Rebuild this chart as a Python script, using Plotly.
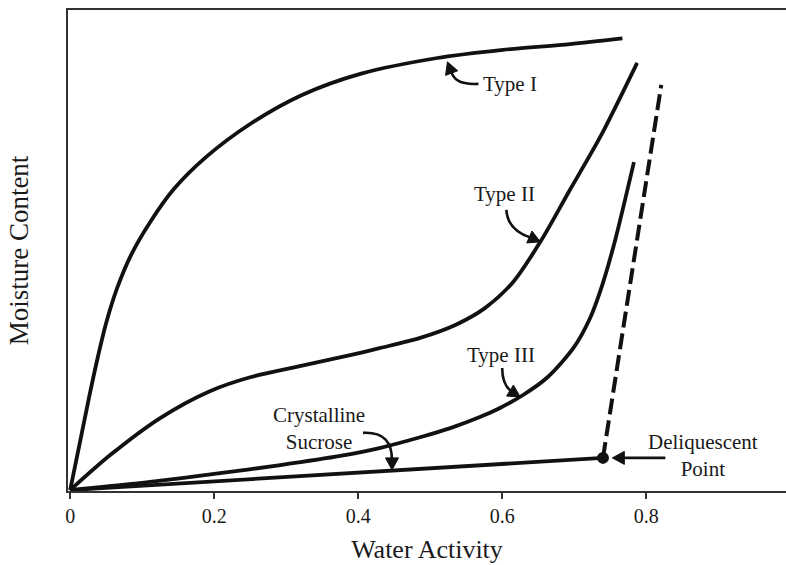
import math
import plotly.graph_objects as go

# Water activity (x) and relative moisture content (y) for each isotherm
type1_aw = [0, 0.0139, 0.0264, 0.0375, 0.05, 0.0653, 0.0847, 0.111, 0.144, 0.189,
            0.25, 0.322, 0.403, 0.51, 0.601, 0.694, 0.767]
type1_mc = [0, 0.102, 0.194, 0.271, 0.348, 0.421, 0.49, 0.558, 0.627, 0.694,
            0.7625, 0.823, 0.867, 0.9, 0.917, 0.929, 0.941]

type2_aw = [0, 0.0556, 0.125, 0.194, 0.25, 0.319, 0.389, 0.431, 0.486, 0.535,
            0.576, 0.615, 0.653, 0.694, 0.736, 0.7875]
type2_mc = [0, 0.0729, 0.15, 0.206, 0.235, 0.258, 0.281, 0.296, 0.317, 0.344,
            0.379, 0.433, 0.517, 0.625, 0.735, 0.89]

type3_aw = [0, 0.111, 0.208, 0.292, 0.375, 0.431, 0.486, 0.528, 0.569, 0.597,
            0.629, 0.663, 0.699, 0.722, 0.739, 0.757, 0.783]
type3_mc = [0, 0.017, 0.035, 0.052, 0.071, 0.088, 0.11, 0.129, 0.152, 0.171,
            0.198, 0.235, 0.296, 0.358, 0.427, 0.521, 0.683]

sucrose_aw = [0, 0.740]
sucrose_mc = [0, 0.067]

deliq_aw = [0.740, 0.821]
deliq_mc = [0.067, 0.844]

tick_vals = [0, 0.2, 0.4, 0.6, 0.8, 1.0]
tick_text = ["0", "0.2", "0.4", "0.6", "0.8", "1"]

SERIF = "Liberation Serif, Times New Roman, serif"
INK = "#111111"

fig = go.Figure()

for xs, ys in [(type1_aw, type1_mc), (type2_aw, type2_mc), (type3_aw, type3_mc)]:
    fig.add_trace(go.Scatter(x=xs, y=ys, mode="lines",
                             line=dict(color=INK, width=3.8, shape="spline", smoothing=0.8),
                             hoverinfo="skip", showlegend=False))

fig.add_trace(go.Scatter(x=sucrose_aw, y=sucrose_mc, mode="lines",
                         line=dict(color=INK, width=3.8),
                         hoverinfo="skip", showlegend=False))
fig.add_trace(go.Scatter(x=deliq_aw, y=deliq_mc, mode="lines",
                         line=dict(color=INK, width=4, dash="16px,6px"),
                         hoverinfo="skip", showlegend=False))
fig.add_trace(go.Scatter(x=[sucrose_aw[-1]], y=[sucrose_mc[-1]], mode="markers",
                         marker=dict(color=INK, size=12),
                         hoverinfo="skip", showlegend=False))


def label_arrow(tip_x, tip_y, body):
    """Curved arrow ending at (tip_x, tip_y); body = screen pixel offsets
    (y down) relative to the tip: start, ctrl1, ctrl2, head base."""
    pts = [(dx, -dy) for dx, dy in body]  # pixel-mode shapes use y up
    (x0, y0) = pts[0]
    if len(pts) == 4:
        (c1x, c1y), (c2x, c2y), (bx, by) = pts[1:]
        path = f"M {x0} {y0} C {c1x} {c1y} {c2x} {c2y} {bx} {by}"
    else:
        (bx, by) = pts[1]
        path = f"M {x0} {y0} L {bx} {by}"
    fig.add_shape(type="path", path=path, xref="x", yref="y",
                  xsizemode="pixel", ysizemode="pixel",
                  xanchor=tip_x, yanchor=tip_y,
                  line=dict(color=INK, width=2.6))
    # triangular head pointing from the base to the tip
    L = math.hypot(bx, by)
    ux, uy = -bx / L, -by / L
    nx, ny = -uy, ux
    hl, hw = 12, 6.5
    b2x, b2y = -ux * hl, -uy * hl
    head = (f"M 0 0 L {b2x + nx * hw:.2f} {b2y + ny * hw:.2f} "
            f"L {b2x - nx * hw:.2f} {b2y - ny * hw:.2f} Z")
    fig.add_shape(type="path", path=head, xref="x", yref="y",
                  xsizemode="pixel", ysizemode="pixel",
                  xanchor=tip_x, yanchor=tip_y,
                  fillcolor=INK, line=dict(color=INK, width=1))


label_arrow(0.524, 0.892, [(31, 22), (12, 23), (6, 18), (3, 8)])
label_arrow(0.653, 0.517, [(-34, -32), (-33, -16), (-22, -8), (-9, -4)])
label_arrow(0.625, 0.194, [(-18, -29), (-18, -16), (-14, -9), (-8, -5)])
label_arrow(0.447, 0.042, [(-29, -37), (-8, -38), (0, -28), (0, -9)])
label_arrow(0.753, 0.067, [(53, 0), (10, 0)])

labels = [
    ("Type I", 0.611, 0.846),
    ("Type II", 0.603, 0.617),
    ("Type III", 0.599, 0.281),
    ("Crystalline<br>Sucrose", 0.346, 0.128),
    ("Deliquescent<br>Point", 0.879, 0.072),
]
for txt, lx, ly in labels:
    fig.add_annotation(x=lx, y=ly, xref="x", yref="y", text=txt, showarrow=False,
                       font=dict(family=SERIF, size=21, color="#1a1a1a"),
                       xanchor="center", yanchor="middle")

fig.update_layout(
    width=786, height=565,
    margin=dict(l=68, r=0, t=10, b=74),
    plot_bgcolor="white", paper_bgcolor="white",
    showlegend=False,
    font=dict(family=SERIF, color="#1a1a1a"),
    xaxis=dict(range=[-0.003, 0.9942], showgrid=False, zeroline=False,
               showline=True, linecolor="#333333", linewidth=2, mirror=True,
               ticks="outside", ticklen=6, tickwidth=2, tickcolor="#333333",
               tickvals=tick_vals, ticktext=tick_text,
               tickfont=dict(family=SERIF, size=20, color="#1a1a1a"),
               title=dict(text="Water Activity", standoff=14,
                          font=dict(family=SERIF, size=26, color="#1a1a1a"))),
    yaxis=dict(range=[-0.002, 1.0], showgrid=False, zeroline=False,
               showline=True, linecolor="#333333", linewidth=2,
               showticklabels=False, ticks="",
               title=dict(text="Moisture Content", standoff=30,
                          font=dict(family=SERIF, size=27, color="#1a1a1a"))),
)

fig.write_html("out.html")
